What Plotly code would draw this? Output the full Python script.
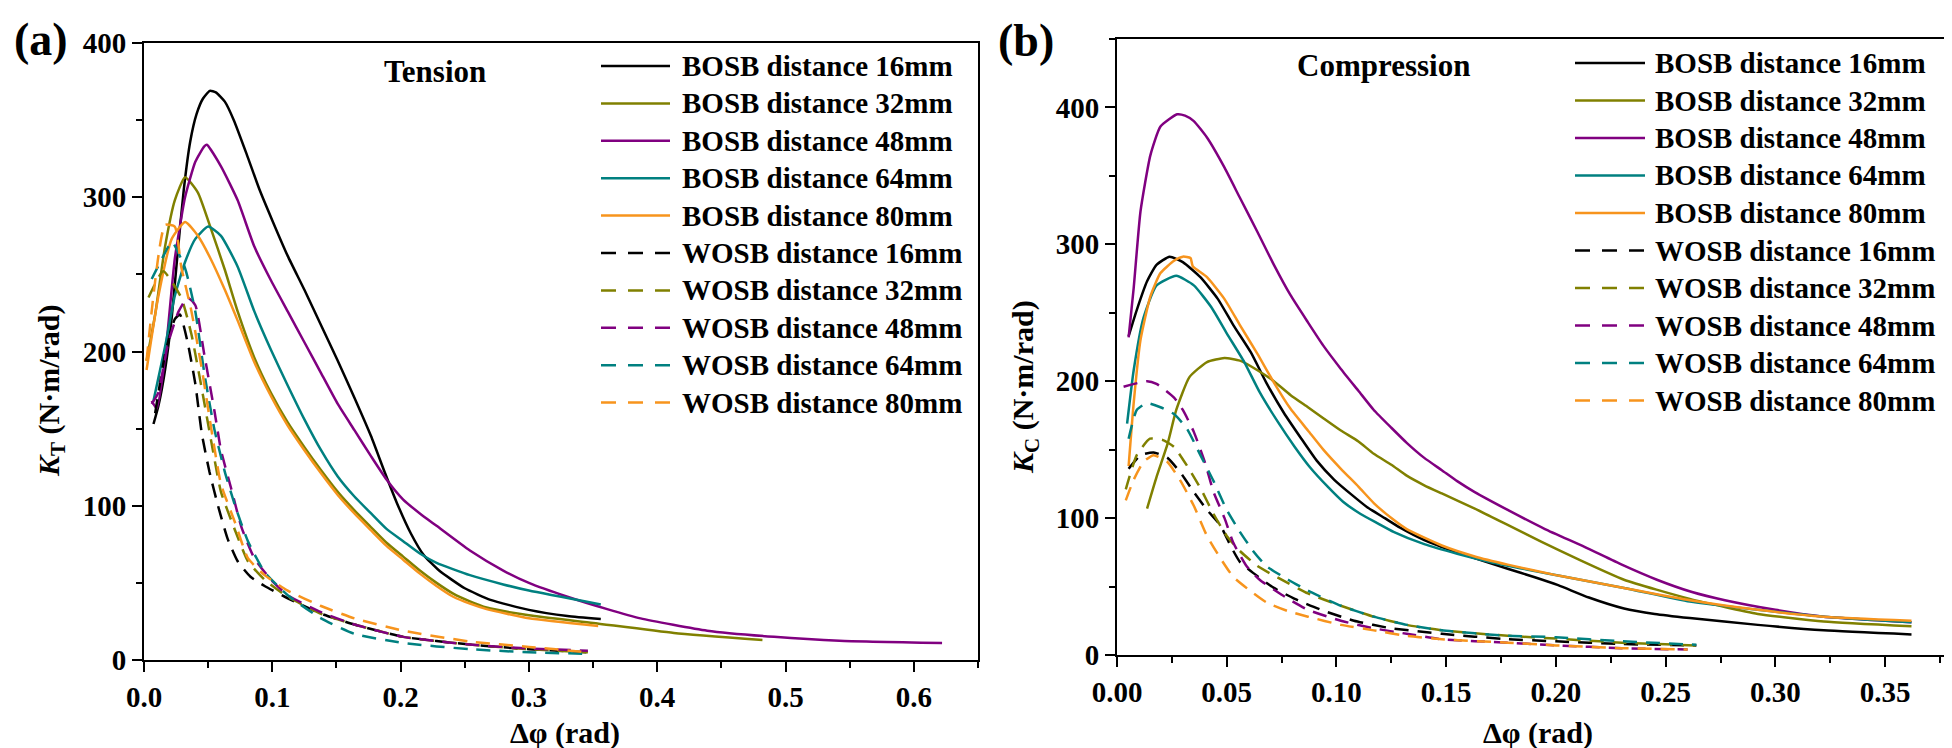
import plotly.graph_objects as go

# ---------------- Tension (a) ----------------
t_b16_x = [0.0074, 0.0113, 0.0164, 0.0216, 0.026, 0.031, 0.036, 0.041, 0.046, 0.0513, 0.056, 0.063, 0.07, 0.08, 0.09, 0.1, 0.112, 0.125, 0.138, 0.151, 0.164, 0.177, 0.187, 0.197, 0.208, 0.218, 0.23, 0.25, 0.27, 0.3, 0.33, 0.356]
t_b16_y = [153, 165, 188, 222, 262, 305, 336, 354, 364, 369, 368, 362, 350, 328, 305, 285, 262, 240, 217, 194, 170, 145, 123, 102, 82, 68, 58, 46.5, 39, 32.5, 28.5, 26.5]

t_b32_x = [0.002, 0.0087, 0.0164, 0.024, 0.032, 0.042, 0.052, 0.063, 0.073, 0.086, 0.099, 0.112, 0.125, 0.138, 0.151, 0.164, 0.177, 0.189, 0.202, 0.215, 0.228, 0.241, 0.254, 0.267, 0.3, 0.35, 0.413, 0.482]
t_b32_y = [194, 224, 268, 298, 313, 303, 280, 253, 226, 196, 173, 154, 138, 123, 109, 97, 86, 76, 67, 58, 50, 43, 38, 34, 29, 24, 17.5, 13]

t_b48_x = [0.006, 0.01, 0.0164, 0.024, 0.032, 0.040, 0.047, 0.049, 0.060, 0.073, 0.086, 0.099, 0.112, 0.125, 0.138, 0.151, 0.164, 0.177, 0.189, 0.202, 0.215, 0.228, 0.254, 0.28, 0.3, 0.33, 0.361, 0.387, 0.439, 0.491, 0.542, 0.622]
t_b48_y = [168, 163, 196, 260, 300, 323, 333, 334, 320, 298, 268, 246, 226, 206, 186, 166, 149, 132, 117, 104, 95, 87, 71, 58, 50, 41, 33, 27, 19, 15, 12.5, 11]

t_b64_x = [0.0074, 0.0164, 0.024, 0.032, 0.040, 0.050, 0.060, 0.073, 0.086, 0.099, 0.112, 0.125, 0.138, 0.151, 0.164, 0.177, 0.189, 0.202, 0.215, 0.228, 0.254, 0.28, 0.3, 0.356]
t_b64_y = [168, 203, 236, 258, 273, 281, 275, 255, 226, 201, 178, 156, 136, 119, 106, 95, 85, 77, 69, 63, 55, 49, 45, 36]

t_b80_x = [0.002, 0.011, 0.0216, 0.032, 0.042, 0.052, 0.063, 0.073, 0.086, 0.099, 0.112, 0.125, 0.138, 0.151, 0.164, 0.177, 0.189, 0.202, 0.215, 0.228, 0.241, 0.254, 0.267, 0.3, 0.354]
t_b80_y = [188, 235, 273, 284, 275, 260, 240, 220, 193, 171, 152, 136, 121, 107, 95, 84, 74, 65, 56, 48, 41, 36.5, 33, 27, 22]

t_w16_x = [0.0087, 0.0164, 0.024, 0.028, 0.034, 0.040, 0.045, 0.051, 0.058, 0.065, 0.073, 0.083, 0.094, 0.112, 0.138, 0.164, 0.202, 0.254, 0.3, 0.346]
t_w16_y = [160, 198, 221, 224, 206, 179, 147, 122, 99, 79, 64, 54, 48, 40, 30, 23, 15, 10, 7, 5]

t_w32_x = [0.0035, 0.015, 0.029, 0.037, 0.045, 0.053, 0.060, 0.071, 0.081, 0.094, 0.112, 0.138, 0.164, 0.202, 0.254, 0.3, 0.346]
t_w32_y = [235, 252, 235, 211, 176, 139, 109, 84, 64, 52, 41, 30, 23, 15, 10, 7, 5]

t_w48_x = [0.006, 0.011, 0.019, 0.027, 0.034, 0.040, 0.047, 0.055, 0.060, 0.068, 0.076, 0.086, 0.099, 0.112, 0.138, 0.164, 0.202, 0.254, 0.3, 0.346]
t_w48_y = [166, 173, 206, 226, 235, 230, 198, 161, 136, 111, 86, 66, 52, 42, 31, 23, 15, 10, 7.5, 6]

t_w64_x = [0.006, 0.019, 0.022, 0.032, 0.040, 0.047, 0.055, 0.063, 0.071, 0.081, 0.094, 0.112, 0.138, 0.164, 0.202, 0.254, 0.3, 0.346]
t_w64_y = [247, 268, 271, 254, 226, 186, 149, 122, 100, 77, 57, 42, 27, 17, 11, 7, 5, 4]

t_w80_x = [0.002, 0.0164, 0.024, 0.029, 0.037, 0.045, 0.053, 0.060, 0.071, 0.081, 0.094, 0.112, 0.138, 0.164, 0.202, 0.254, 0.3, 0.346]
t_w80_y = [194, 282, 281, 255, 226, 189, 147, 114, 89, 66, 55, 45, 35, 27, 19, 12, 8.5, 5]

# ---------------- Compression (b) ----------------
c_b16_x = [0.0053, 0.009, 0.0137, 0.018, 0.024, 0.030, 0.038, 0.046, 0.053, 0.061, 0.068, 0.076, 0.084, 0.091, 0.099, 0.107, 0.114, 0.122, 0.129, 0.140, 0.155, 0.178, 0.19, 0.201, 0.215, 0.231, 0.245, 0.261, 0.292, 0.322, 0.362]
c_b16_y = [233, 252, 273, 285, 291, 287, 276, 260, 241, 221, 199, 177, 158, 142, 128, 117, 108, 100, 93, 84, 75, 63, 57, 51, 42, 34, 30, 27, 22, 18, 15]

c_b32_x = [0.0137, 0.018, 0.023, 0.027, 0.033, 0.041, 0.049, 0.056, 0.064, 0.0715, 0.079, 0.087, 0.094, 0.102, 0.110, 0.117, 0.125, 0.132, 0.140, 0.148, 0.163, 0.178, 0.193, 0.21, 0.231, 0.261, 0.292, 0.322, 0.362]
c_b32_y = [107, 130, 154, 179, 203, 214, 217, 215, 208, 200, 190, 181, 173, 164, 156, 147, 139, 131, 124, 118, 107, 95, 83, 70, 55, 41, 30, 24.5, 21]

c_b48_x = [0.0053, 0.0076, 0.0107, 0.0152, 0.0198, 0.0274, 0.031, 0.035, 0.041, 0.049, 0.056, 0.064, 0.0715, 0.079, 0.087, 0.094, 0.102, 0.110, 0.117, 0.125, 0.132, 0.140, 0.148, 0.155, 0.163, 0.178, 0.195, 0.213, 0.23, 0.246, 0.262, 0.277, 0.30, 0.322, 0.362]
c_b48_y = [232, 268, 324, 365, 386, 395, 394, 390, 378, 356, 334, 309, 285, 263, 243, 226, 209, 193, 179, 166, 155, 144, 135, 127, 119, 106, 92, 79, 66, 55, 46, 40, 33, 28, 24]

c_b64_x = [0.0046, 0.0076, 0.012, 0.018, 0.027, 0.035, 0.043, 0.050, 0.058, 0.065, 0.073, 0.081, 0.088, 0.096, 0.103, 0.111, 0.119, 0.126, 0.140, 0.155, 0.170, 0.201, 0.231, 0.261, 0.292, 0.322, 0.362]
c_b64_y = [169, 208, 246, 270, 277, 270, 254, 235, 214, 192, 171, 152, 137, 123, 112, 103, 96, 90, 81, 74, 68, 58, 49, 39, 33, 28, 24]

c_b80_x = [0.0053, 0.0076, 0.0107, 0.0152, 0.0198, 0.026, 0.030, 0.0335, 0.0345, 0.041, 0.049, 0.056, 0.064, 0.0715, 0.079, 0.087, 0.094, 0.102, 0.110, 0.117, 0.125, 0.132, 0.148, 0.163, 0.178, 0.201, 0.231, 0.261, 0.292, 0.322, 0.362]
c_b80_y = [138, 184, 230, 262, 279, 288, 291, 290, 284, 276, 260, 241, 220, 199, 180, 164, 150, 136, 123, 111, 100, 92, 80, 72, 66, 58, 49, 40, 33, 28, 25]

c_w16_x = [0.0053, 0.0107, 0.0167, 0.023, 0.029, 0.035, 0.041, 0.047, 0.052, 0.056, 0.062, 0.0715, 0.081, 0.093, 0.108, 0.125, 0.148, 0.178, 0.2, 0.23, 0.264]
c_w16_y = [136, 146, 148, 144, 133, 119, 106, 95, 79, 68, 60, 49, 41, 33, 25, 19.5, 15.5, 11.5, 10, 8, 7]

c_w32_x = [0.004, 0.009, 0.015, 0.021, 0.026, 0.032, 0.038, 0.044, 0.050, 0.056, 0.064, 0.075, 0.087, 0.102, 0.117, 0.132, 0.148, 0.178, 0.2, 0.23, 0.264]
c_w32_y = [121, 146, 158, 157, 152, 138, 122, 103, 87, 76, 65, 55, 45, 36, 28, 22, 18, 14, 12, 9, 7]

c_w48_x = [0.003, 0.0137, 0.018, 0.026, 0.030, 0.035, 0.040, 0.044, 0.049, 0.053, 0.059, 0.065, 0.075, 0.087, 0.102, 0.117, 0.132, 0.148, 0.178, 0.2, 0.23, 0.26]
c_w48_y = [196, 200, 198, 188, 179, 163, 141, 119, 100, 82, 65, 55, 44, 33, 25, 19.5, 15.5, 11.5, 9, 7, 5, 4]

c_w64_x = [0.0053, 0.009, 0.0137, 0.0198, 0.026, 0.032, 0.038, 0.044, 0.050, 0.056, 0.062, 0.068, 0.078, 0.087, 0.102, 0.117, 0.132, 0.148, 0.178, 0.2, 0.23, 0.264]
c_w64_y = [158, 179, 184, 181, 176, 165, 146, 127, 106, 90, 76, 65, 55, 47, 36, 28, 22, 18, 14, 13, 10, 7.5]

c_w80_x = [0.004, 0.0076, 0.012, 0.0167, 0.023, 0.029, 0.035, 0.041, 0.047, 0.053, 0.061, 0.068, 0.078, 0.087, 0.102, 0.117, 0.132, 0.148, 0.178, 0.2, 0.23, 0.26]
c_w80_y = [113, 128, 141, 146, 141, 127, 109, 87, 71, 57, 46.5, 38.5, 32, 28, 22, 18, 14, 11.5, 9, 7, 5, 4]

labels = ["BOSB distance 16mm", "BOSB distance 32mm", "BOSB distance 48mm",
          "BOSB distance 64mm", "BOSB distance 80mm",
          "WOSB distance 16mm", "WOSB distance 32mm", "WOSB distance 48mm",
          "WOSB distance 64mm", "WOSB distance 80mm"]
colors = ["#000000", "#808000", "#800080", "#008080", "#F7941D"]

tension = [(t_b16_x, t_b16_y), (t_b32_x, t_b32_y), (t_b48_x, t_b48_y), (t_b64_x, t_b64_y), (t_b80_x, t_b80_y),
           (t_w16_x, t_w16_y), (t_w32_x, t_w32_y), (t_w48_x, t_w48_y), (t_w64_x, t_w64_y), (t_w80_x, t_w80_y)]
compression = [(c_b16_x, c_b16_y), (c_b32_x, c_b32_y), (c_b48_x, c_b48_y), (c_b64_x, c_b64_y), (c_b80_x, c_b80_y),
               (c_w16_x, c_w16_y), (c_w32_x, c_w32_y), (c_w48_x, c_w48_y), (c_w64_x, c_w64_y), (c_w80_x, c_w80_y)]

FONT = "Liberation Serif"
W, H = 1952, 748
DASH = "14px,9px"

fig = go.Figure()

def add_set(data, xa, ya):
    for i, (xs, ys) in enumerate(data):
        dash = "solid" if i < 5 else DASH
        fig.add_trace(go.Scatter(
            x=xs, y=ys, mode="lines", name=labels[i], xaxis=xa, yaxis=ya, showlegend=False,
            line=dict(color=colors[i % 5], width=2.5, dash=dash, shape="spline", smoothing=0.5),
        ))

add_set(tension, "x", "y")
add_set(compression, "x2", "y2")

def px(x):
    return x / W

def py(y):
    return 1 - y / H

axis_common = dict(showline=True, linecolor="black", linewidth=2, mirror=True,
                   ticks="outside", ticklen=10, tickwidth=2, tickcolor="black",
                   showgrid=False, zeroline=False, automargin=False,
                   tickfont=dict(family=FONT, size=29, color="black", weight="bold"))

fig.update_layout(
    width=W, height=H, margin=dict(l=0, r=0, t=0, b=0, autoexpand=False),
    paper_bgcolor="white", plot_bgcolor="white", showlegend=False,
    xaxis=dict(domain=[px(136), px(970)], range=[0, 0.65], dtick=0.1, tickformat=".1f", anchor="y",
               minor=dict(ticks="outside", ticklen=6, tickwidth=2, dtick=0.05, tickcolor="black"), **axis_common),
    yaxis=dict(domain=[py(652), py(35)], range=[0, 400], dtick=100, anchor="x",
               minor=dict(ticks="outside", ticklen=6, tickwidth=2, dtick=50, tickcolor="black"), **axis_common),
    xaxis2=dict(domain=[px(1109), px(1943)], range=[0, 0.38], dtick=0.05, tickformat=".2f", anchor="y2",
                minor=dict(ticks="outside", ticklen=6, tickwidth=2, dtick=0.025, tickcolor="black"), **axis_common),
    yaxis2=dict(domain=[py(647), py(31)], range=[0, 450], dtick=100, anchor="x2",
                minor=dict(ticks="outside", ticklen=6, tickwidth=2, dtick=50, tickcolor="black"), **axis_common),
)

ann_font = dict(family=FONT, color="black", weight="bold")
annotations = [
    dict(text="(a)", x=px(4), y=py(31), xanchor="left", yanchor="middle", font=dict(size=46, **ann_font)),
    dict(text="(b)", x=px(988), y=py(33), xanchor="left", yanchor="middle", font=dict(size=46, **ann_font)),
    dict(text="Tension", x=px(427), y=py(63), xanchor="center", yanchor="middle", font=dict(size=31, **ann_font)),
    dict(text="Compression", x=px(1375), y=py(58), xanchor="center", yanchor="middle", font=dict(size=31, **ann_font)),
    dict(text="Δφ (rad)", x=px(557), y=py(744), xanchor="center", yanchor="bottom", font=dict(size=30, **ann_font)),
    dict(text="Δφ (rad)", x=px(1530), y=py(744), xanchor="center", yanchor="bottom", font=dict(size=30, **ann_font)),
    dict(text="<i>K</i><sub>T</sub> (N·m/rad)", x=px(43), y=py(383), xanchor="center", yanchor="middle",
         textangle=-90, font=dict(size=30, **ann_font)),
    dict(text="<i>K</i><sub>C</sub> (N·m/rad)", x=px(1017), y=py(379), xanchor="center", yanchor="middle",
         textangle=-90, font=dict(size=30, **ann_font)),
]

# legend (drawn as paper-positioned samples + text)
shapes = []
legend_specs = [(593, 662, 672, 58, 37.4), (1567, 1637, 1645, 55, 37.5)]
for (lx0, lx1, tx, y0, dy) in legend_specs:
    for i, lab in enumerate(labels):
        yy = y0 + dy * i
        shapes.append(dict(type="line", xref="paper", yref="paper",
                           x0=px(lx0), x1=px(lx1), y0=py(yy), y1=py(yy),
                           line=dict(color=colors[i % 5], width=2.5,
                                     dash="solid" if i < 5 else "15px,12px")))
        annotations.append(dict(text=lab, x=px(tx), y=py(yy), xanchor="left", yanchor="middle",
                                font=dict(size=29, **ann_font)))

for a in annotations:
    a.update(xref="paper", yref="paper", showarrow=False)
fig.update_layout(annotations=annotations, shapes=shapes)

fig.write_html("out.html")
